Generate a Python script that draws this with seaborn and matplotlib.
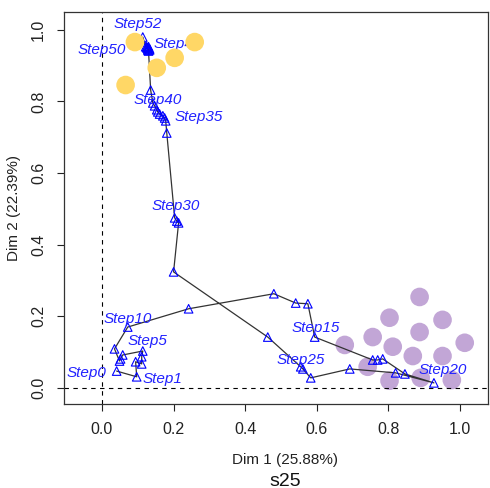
import matplotlib
matplotlib.use("Agg")
import matplotlib.pyplot as plt
import pandas as pd
import seaborn as sns

# trajectory Step0 .. Step52 (Dim 1, Dim 2)
dim1 = [0.041, 0.097, 0.094, 0.111, 0.111, 0.114, 0.058, 0.052, 0.049, 0.035,
        0.072, 0.242, 0.480, 0.541, 0.575, 0.594, 0.756, 0.770, 0.784, 0.846,
        0.927, 0.820, 0.692, 0.583, 0.561, 0.555, 0.463, 0.200, 0.214, 0.209,
        0.203, 0.181, 0.178, 0.175, 0.170, 0.161, 0.156, 0.153, 0.147, 0.142,
        0.136, 0.130, 0.133, 0.128, 0.125, 0.130, 0.128, 0.133, 0.125, 0.130,
        0.128, 0.122, 0.114]
dim2 = [0.047, 0.031, 0.073, 0.067, 0.087, 0.103, 0.092, 0.081, 0.075, 0.109,
        0.170, 0.221, 0.263, 0.237, 0.235, 0.142, 0.078, 0.078, 0.081, 0.039,
        0.014, 0.042, 0.053, 0.028, 0.053, 0.059, 0.142, 0.324, 0.461, 0.466,
        0.475, 0.712, 0.746, 0.754, 0.760, 0.765, 0.771, 0.777, 0.788, 0.796,
        0.832, 0.941, 0.944, 0.947, 0.953, 0.950, 0.944, 0.947, 0.950, 0.953,
        0.950, 0.953, 0.980]

# labelled steps and where their text sits
label_text = ["Step0", "Step1", "Step5", "Step10", "Step15", "Step20", "Step25",
              "Step30", "Step35", "Step40", "Step45", "Step50", "Step52"]
label_x = [-0.043, 0.169, 0.128, 0.072, 0.597, 0.952, 0.555, 0.206, 0.270, 0.156, 0.212, -0.001, 0.100]
label_y = [0.042, 0.025, 0.131, 0.193, 0.168, 0.050, 0.078, 0.508, 0.757, 0.804, 0.961, 0.944, 1.017]

# reference groups
yellow_x = [0.092, 0.259, 0.203, 0.153, 0.066]
yellow_y = [0.966, 0.966, 0.922, 0.894, 0.846]
purple_x = [0.887, 0.803, 0.951, 0.756, 0.887, 0.678, 0.812, 1.013, 0.868, 0.951, 0.742, 0.803, 0.890, 0.977]
purple_y = [0.254, 0.196, 0.190, 0.142, 0.156, 0.120, 0.115, 0.126, 0.089, 0.089, 0.059, 0.020, 0.028, 0.022]

x_ticks = [0.0, 0.2, 0.4, 0.6, 0.8, 1.0]
y_ticks = [0.0, 0.2, 0.4, 0.6, 0.8, 1.0]

sns.set_style("white")
plt.rcParams['font.family'] = ['Liberation Sans', 'DejaVu Sans']

df = pd.DataFrame({"dim1": dim1, "dim2": dim2})

fig = plt.figure(figsize=(4.9, 4.88), dpi=100)
ax = fig.add_axes([64/490, 1-404/488, 424/490, 392/488])

sns.scatterplot(x=purple_x, y=purple_y, s=180, color="#C2A6D6", edgecolor="none", ax=ax, zorder=1)
ax.axhline(0, color="black", lw=0.8, ls=(0, (4, 4)), zorder=2)
ax.axvline(0, color="black", lw=0.8, ls=(0, (4, 4)), zorder=2)
sns.lineplot(data=df, x="dim1", y="dim2", sort=False, estimator=None, color="#333333", lw=0.9, ax=ax, zorder=3)
sns.scatterplot(data=df, x="dim1", y="dim2", marker="^", s=38, facecolor="none",
                edgecolor="blue", linewidth=0.8, ax=ax, zorder=4)
for t, lx, ly in zip(label_text, label_x, label_y):
    ax.text(lx, ly, t, color="#2222FF", fontsize=11, style="italic", ha="center", va="center", zorder=5)
sns.scatterplot(x=yellow_x, y=yellow_y, s=180, color="#FFD766", edgecolor="none", ax=ax, zorder=6)

ax.set_xlim(-0.106, 1.078)
ax.set_ylim(-0.045, 1.050)
ax.set_xticks(x_ticks)
ax.set_yticks(y_ticks)
ax.set_xticklabels([f"{v:.1f}" for v in x_ticks])
ax.set_yticklabels([f"{v:.1f}" for v in y_ticks], rotation=90, va="center")
ax.tick_params(axis="both", direction="out", length=5, width=0.8, colors="#222222", labelsize=11.5, pad=8, bottom=True, left=True)
for sp in ax.spines.values():
    sp.set_color("#333333")
    sp.set_linewidth(0.9)

ax.set_xlabel("Dim 1 (25.88%)", fontsize=11, color="#222222")
ax.set_ylabel("Dim 2 (22.39%)", fontsize=11, color="#222222")
ax.xaxis.set_label_coords((285-64)/424, -(453-404)/392)
ax.yaxis.set_label_coords(-(64-21)/424, 0.5)
fig.text(285/490, 1-481/488, "s25", fontsize=14, ha="center", va="center", color="#111111")

fig.savefig("out.png", dpi=100)
